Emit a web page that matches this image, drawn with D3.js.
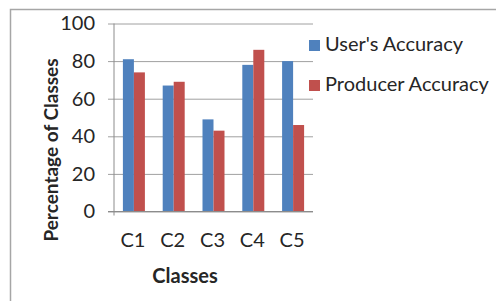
<!DOCTYPE html>
<html>
<head>
<meta charset="utf-8">
<script src="https://cdn.jsdelivr.net/npm/d3@7"></script>
<style>
  body { margin: 0; background: #fff; }
  text { font-family: Lato, "Open Sans", sans-serif; fill: #262626; }
</style>
</head>
<body>
<div id="chart"></div>
<script>
const classes = ["C1", "C2", "C3", "C4", "C5"];
const usersAccuracy = [81, 67, 49, 78, 80];
const producerAccuracy = [74, 69, 43, 86, 46];
const seriesNames = ["User's Accuracy", "Producer Accuracy"];
const yTicks = [0, 20, 40, 60, 80, 100];

const width = 496, height = 301;
const plot = { left: 114, right: 313, top: 23.5, bottom: 211.5 };
const colors = ["#4F81BD", "#C0504D"];

const svg = d3.select("#chart").append("svg")
    .attr("width", width)
    .attr("height", height);

// outer frame (runs past right/bottom edge like the crop)
svg.append("rect")
    .attr("x", 10.5).attr("y", 9.5)
    .attr("width", width + 10).attr("height", height + 10)
    .attr("fill", "none")
    .attr("stroke", "#a6a6a6")
    .attr("stroke-width", 1.5);

const x = d3.scaleBand().domain(classes).range([plot.left, plot.right]);
const x1 = d3.scaleBand().domain(seriesNames).range([0, 22]);
const y = d3.scaleLinear().domain([0, 100]).range([plot.bottom, plot.top]);

// gridlines + y ticks
svg.append("g")
    .attr("transform", `translate(${plot.left},0)`)
    .call(d3.axisLeft(y).tickValues(yTicks).tickSize(-(plot.right - plot.left)).tickPadding(19))
    .call(g => g.select(".domain").remove())
    .call(g => g.selectAll(".tick line").attr("stroke", "#a0a0a0").attr("x1", -6))
    .call(g => g.selectAll(".tick text").attr("font-size", 20).attr("fill", "#333")
        .attr("font-family", "Lato, sans-serif"));

const data = classes.map((c, i) => ({ c, vals: [usersAccuracy[i], producerAccuracy[i]] }));

const groups = svg.selectAll(".grp").data(data).enter().append("g")
    .attr("transform", d => `translate(${x(d.c) + (x.bandwidth() - 22) / 2},0)`);

groups.selectAll("rect").data(d => d.vals.map((v, j) => ({ v, s: seriesNames[j], j })))
    .enter().append("rect")
    .attr("x", d => x1(d.s))
    .attr("width", x1.bandwidth())
    .attr("y", d => y(d.v))
    .attr("height", d => y(0) - y(d.v))
    .attr("fill", d => colors[d.j]);

// axis lines
svg.append("line")
    .attr("x1", plot.left).attr("x2", plot.left)
    .attr("y1", plot.top).attr("y2", plot.bottom + 4)
    .attr("stroke", "#8c8c8c");
svg.append("line")
    .attr("x1", plot.left - 6).attr("x2", plot.right)
    .attr("y1", plot.bottom).attr("y2", plot.bottom)
    .attr("stroke", "#8c8c8c");

// x labels
svg.append("g").selectAll("text").data(classes).enter().append("text")
    .attr("x", d => x(d) + x.bandwidth() / 2 - 1)
    .attr("y", 247)
    .attr("text-anchor", "middle")
    .attr("font-size", 20)
    .attr("fill", "#333")
    .text(d => d);

// axis titles
svg.append("text")
    .attr("x", 185).attr("y", 283)
    .attr("text-anchor", "middle")
    .attr("font-size", 20).attr("font-weight", "bold")
    .text("Classes");

svg.append("text")
    .attr("transform", "translate(58,150) rotate(-90)")
    .attr("text-anchor", "middle")
    .attr("font-size", 19).attr("font-weight", "bold")
    .text("Percentage of Classes");

// legend
const legend = svg.append("g").selectAll("g").data(seriesNames).enter().append("g")
    .attr("transform", (d, i) => `translate(309,${44 + i * 40})`);
legend.append("rect")
    .attr("x", 0).attr("y", -4)
    .attr("width", 11).attr("height", 11)
    .attr("fill", (d, i) => colors[i]);
legend.append("text")
    .attr("x", 16).attr("y", 7)
    .attr("font-size", 20)
    .attr("fill", "#333")
    .text(d => d);
</script>
</body>
</html>
